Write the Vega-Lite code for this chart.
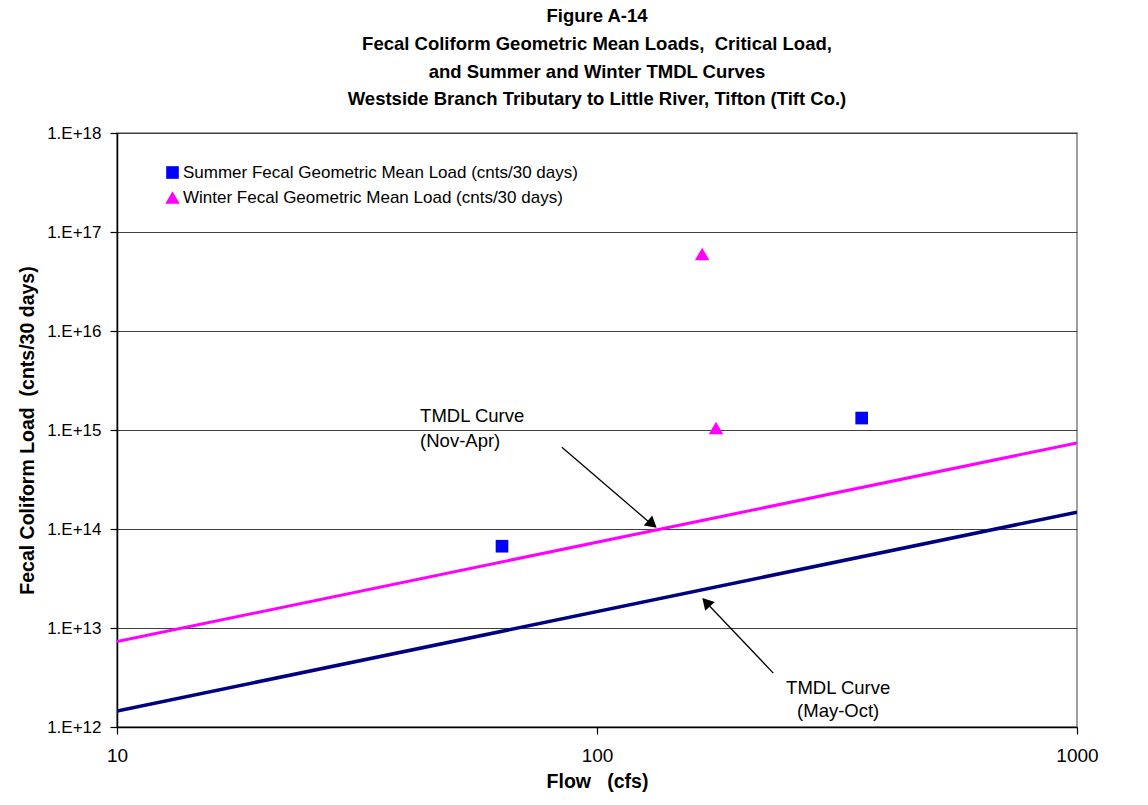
{
  "$schema": "https://vega.github.io/schema/vega-lite/v6.json",
  "autosize": "none",
  "width": 960,
  "height": 594,
  "padding": {"left": 117, "top": 133, "right": 71, "bottom": 78},
  "background": "white",
  "title": {
    "text": ["Figure A-14", "Fecal Coliform Geometric Mean Loads,\u00a0 Critical Load,", "and Summer and Winter TMDL Curves", "Westside Branch Tributary to Little River, Tifton (Tift Co.)"],
    "font": "Liberation Sans",
    "fontSize": 18.5,
    "fontWeight": "bold",
    "color": "black",
    "lineHeight": 27.7,
    "anchor": "middle",
    "offset": 15
  },
  "config": {
    "view": {"stroke": "#808080", "strokeWidth": 1.5},
    "font": "Liberation Sans",
    "axis": {
      "domainColor": "black", "domainWidth": 1.5, "tickColor": "black", "tickWidth": 1.2, "tickSize": 7,
      "labelColor": "black", "labelFont": "Liberation Sans", "labelFlush": false, "labelOverlap": false,
      "titleFont": "Liberation Sans", "titleFontWeight": "bold", "titleColor": "black", "titleFontSize": 19.5
    },
    "axisX": {"grid": false, "labelFontSize": 19, "labelPadding": 12, "titlePadding": 7},
    "axisY": {"grid": true, "gridColor": "#404040", "gridWidth": 1, "labelFontSize": 17, "labelPadding": 9, "titlePadding": 9},
    "legend": {"labelLimit": 0}
  },
  "datasets": {
    "points": [
      {"season": "Summer Fecal Geometric Mean Load (cnts/30 days)", "flow": 63.4, "load": 6.7e13},
      {"season": "Summer Fecal Geometric Mean Load (cnts/30 days)", "flow": 356, "load": 1.32e15},
      {"season": "Winter Fecal Geometric Mean Load (cnts/30 days)", "flow": 165.6, "load": 6.0e16},
      {"season": "Winter Fecal Geometric Mean Load (cnts/30 days)", "flow": 177, "load": 1.05e15}
    ],
    "curves": [
      {"curve": "Winter", "flow": 10, "load": 7.3e12},
      {"curve": "Winter", "flow": 1000, "load": 7.4e14},
      {"curve": "Summer", "flow": 10, "load": 1.45e12},
      {"curve": "Summer", "flow": 1000, "load": 1.48e14}
    ],
    "arrows": [
      {"name": "Nov-Apr", "flow": 84.5, "load": 6.7e14, "flow2": 129, "load2": 1.15e14},
      {"name": "May-Oct", "flow": 233, "load": 3.5e12, "flow2": 170, "load2": 1.75e13}
    ],
    "heads": [
      {"name": "Nov-Apr", "flow": 130.4, "load": 1.12e14, "angle": 130},
      {"name": "May-Oct", "flow": 168.8, "load": 1.82e13, "angle": 317}
    ],
    "labels": [
      {"name": "Nov-Apr", "flow": 42.8, "load": 1.38e15, "text": ["TMDL Curve", "(Nov-Apr)"]},
      {"name": "May-Oct", "flow": 318, "load": 2.48e12, "text": ["TMDL Curve", "(May-Oct)"]}
    ]
  },
  "layer": [
    {
      "data": {"name": "curves"},
      "transform": [{"filter": "datum.curve === 'Summer'"}],
      "mark": {"type": "line", "color": "#000080", "strokeWidth": 3.5, "clip": true},
      "encoding": {
        "x": {"field": "flow", "type": "quantitative", "scale": {"type": "log", "domain": [10, 1000]},
          "axis": {"values": [10, 100, 1000], "title": "Flow\u00a0\u00a0 (cfs)", "format": "d"}},
        "y": {"field": "load", "type": "quantitative", "scale": {"type": "log", "domain": [1e12, 1e18]},
          "axis": {"values": [1e12, 1e13, 1e14, 1e15, 1e16, 1e17, 1e18], "labelExpr": "'1.E+' + round(log(datum.value)/LN10)", "title": "Fecal Coliform Load\u00a0 (cnts/30 days)"}}
      }
    },
    {
      "data": {"name": "curves"},
      "transform": [{"filter": "datum.curve === 'Winter'"}],
      "mark": {"type": "line", "color": "#FF00FF", "strokeWidth": 3, "clip": true},
      "encoding": {
        "x": {"field": "flow", "type": "quantitative"},
        "y": {"field": "load", "type": "quantitative"}
      }
    },
    {
      "data": {"name": "arrows"},
      "mark": {"type": "rule", "color": "black", "strokeWidth": 1.3},
      "encoding": {
        "x": {"field": "flow", "type": "quantitative"},
        "y": {"field": "load", "type": "quantitative"},
        "x2": {"field": "flow2"},
        "y2": {"field": "load2"}
      }
    },
    {
      "data": {"name": "heads"},
      "mark": {"type": "point", "shape": "triangle-up", "filled": true, "color": "black", "size": 170, "opacity": 1},
      "encoding": {
        "x": {"field": "flow", "type": "quantitative"},
        "y": {"field": "load", "type": "quantitative"},
        "angle": {"field": "angle", "type": "quantitative", "scale": null}
      }
    },
    {
      "data": {"name": "labels"},
      "transform": [{"filter": "datum.name === 'Nov-Apr'"}],
      "mark": {"type": "text", "align": "left", "baseline": "middle", "fontSize": 18.5, "lineHeight": 25, "color": "black", "font": "Liberation Sans"},
      "encoding": {
        "x": {"field": "flow", "type": "quantitative"},
        "y": {"field": "load", "type": "quantitative"},
        "text": {"field": "text"}
      }
    },
    {
      "data": {"name": "labels"},
      "transform": [{"filter": "datum.name === 'May-Oct'"}],
      "mark": {"type": "text", "align": "center", "baseline": "middle", "fontSize": 18.5, "lineHeight": 23, "color": "black", "font": "Liberation Sans"},
      "encoding": {
        "x": {"field": "flow", "type": "quantitative"},
        "y": {"field": "load", "type": "quantitative"},
        "text": {"field": "text"}
      }
    },
    {
      "data": {"name": "points"},
      "mark": {"type": "point", "filled": true, "opacity": 1},
      "encoding": {
        "x": {"field": "flow", "type": "quantitative"},
        "y": {"field": "load", "type": "quantitative"},
        "size": {"field": "season", "type": "nominal", "scale": {"domain": ["Summer Fecal Geometric Mean Load (cnts/30 days)", "Winter Fecal Geometric Mean Load (cnts/30 days)"], "range": [160, 210]}, "legend": null},
        "color": {"field": "season", "type": "nominal", "scale": {"domain": ["Summer Fecal Geometric Mean Load (cnts/30 days)", "Winter Fecal Geometric Mean Load (cnts/30 days)"], "range": ["#0000FF", "#FF00FF"]},
          "legend": {"title": null, "orient": "none", "legendX": 47, "legendY": 31, "labelFontSize": 17, "labelFont": "Liberation Sans", "labelColor": "black", "symbolSize": 150, "rowPadding": 7, "labelOffset": 2, "symbolStrokeWidth": 0, "labelLimit": 0}},
        "shape": {"field": "season", "type": "nominal", "scale": {"domain": ["Summer Fecal Geometric Mean Load (cnts/30 days)", "Winter Fecal Geometric Mean Load (cnts/30 days)"], "range": ["square", "triangle-up"]},
          "legend": {"title": null, "orient": "none", "legendX": 47, "legendY": 31, "labelFontSize": 17, "labelFont": "Liberation Sans", "labelColor": "black", "symbolSize": 150, "rowPadding": 7, "labelOffset": 2, "symbolStrokeWidth": 0, "labelLimit": 0}}
      }
    }
  ]
}
